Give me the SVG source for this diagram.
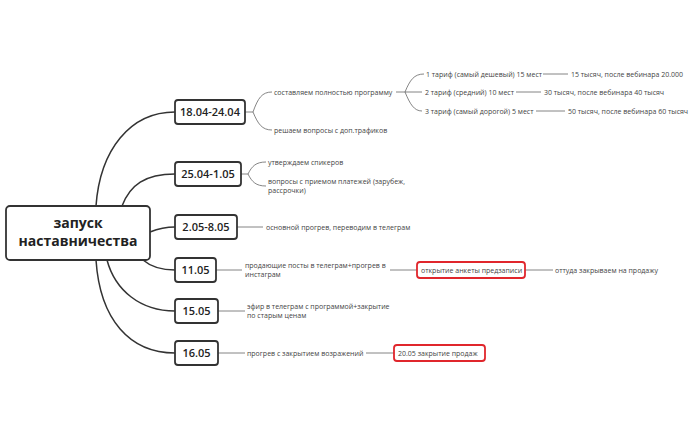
<svg xmlns="http://www.w3.org/2000/svg" width="698" height="432" viewBox="0 0 698 432">
<style>
.n{fill:#fff;stroke:#333;stroke-width:1.8}
.r{fill:#fff;stroke:#e0262c;stroke-width:1.8}
.c{fill:none;stroke:#333;stroke-width:1.5}
.s{fill:none;stroke:#666;stroke-width:0.8}
.t{font-family:"Open Sans","Liberation Sans",sans-serif;font-size:11px;fill:#222;font-weight:600}
.m{font-family:"Open Sans","Liberation Sans",sans-serif;font-size:7px;fill:#444}
.big{font-family:"Open Sans","Liberation Sans",sans-serif;font-size:14px;font-weight:bold;fill:#222}
</style>
<rect width="698" height="432" fill="#fff"/>
<g id="connectors">
<path class="c" d="M96,206 C100,150 130,112 175,112"/>
<path class="c" d="M122,206 C130,185 145,174 175,174"/>
<path class="c" d="M150,232 C160,228 165,227 175,227"/>
<path class="c" d="M143,260 C150,266 160,270 175,270"/>
<path class="c" d="M107,260 C115,290 140,311 175,311"/>
<path class="c" d="M96,260 C100,320 130,353 175,353"/>
<path class="s" d="M245,112 H253 C258,98 262,92 272,92 M253,112 C258,124 262,130 272,130"/>
<path class="s" d="M396,92 H405 M405,92 C410,80 414,74 424,74 M405,92 H422 M405,92 C410,104 414,111 422,111"/>
<path class="s" d="M543,74 H568 M516,92 H541 M536,111 H565"/>
<path class="s" d="M241,174 H248 C252,166 256,162 266,162 M248,174 C252,182 256,186 266,186"/>
<path class="s" d="M237,227 H263"/>
<path class="s" d="M216,270 H242 M390,270 H417 M525,270 H553"/>
<path class="s" d="M218,311 H245"/>
<path class="s" d="M218,353 H245 M366,353 H394"/>
</g>
<g id="root"><rect class="n" x="6" y="206" width="144" height="54" rx="4"/>
<text class="big" x="78" y="228" text-anchor="middle">запуск</text>
<text class="big" x="78" y="246" text-anchor="middle">наставничества</text></g>
<g id="n1"><rect class="n" x="175" y="100" width="70" height="24" rx="3"/><text class="t" x="210" y="116" text-anchor="middle">18.04-24.04</text></g>
<g id="n2"><rect class="n" x="175" y="162" width="66" height="24" rx="3"/><text class="t" x="208" y="178" text-anchor="middle">25.04-1.05</text></g>
<g id="n3"><rect class="n" x="175" y="215" width="62" height="24" rx="3"/><text class="t" x="206" y="231" text-anchor="middle">2.05-8.05</text></g>
<g id="n4"><rect class="n" x="175" y="258" width="41" height="24" rx="3"/><text class="t" x="195.5" y="274" text-anchor="middle">11.05</text></g>
<g id="n5"><rect class="n" x="175" y="299" width="43" height="24" rx="3"/><text class="t" x="196.5" y="315" text-anchor="middle">15.05</text></g>
<g id="n6"><rect class="n" x="175" y="341" width="43" height="24" rx="3"/><text class="t" x="196.5" y="357" text-anchor="middle">16.05</text></g>
<g id="texts">
<text class="m" x="274" y="94.5">составляем полностью программу</text>
<text class="m" x="274" y="132.5">решаем вопросы с доп.трафиков</text>
<text class="m" x="426" y="76.5">1 тариф (самый дешевый) 15 мест</text>
<text class="m" x="425" y="94.5">2 тариф (средний) 10 мест</text>
<text class="m" x="425" y="113.5">3 тариф (самый дорогой) 5 мест</text>
<text class="m" x="571" y="76.5">15 тысяч, после вебинара 20.000</text>
<text class="m" x="544" y="94.5">30 тысяч, после вебинара 40 тысяч</text>
<text class="m" x="568" y="113.5">50 тысяч, после вебинара 60 тысяч</text>
<text class="m" x="268" y="164.5">утверждаем спикеров</text>
<text class="m" x="268" y="183.5">вопросы с приемом платежей (зарубеж,</text>
<text class="m" x="268" y="192.5">рассрочки)</text>
<text class="m" x="266" y="229.5">основной прогрев, переводим в телеграм</text>
<text class="m" x="245" y="267.5">продающие посты в телеграм+прогрев в</text>
<text class="m" x="245" y="276.5">инстаграм</text>
<text class="m" x="555" y="272.5">оттуда закрываем на продажу</text>
<text class="m" x="247" y="308.5">эфир в телеграм с программой+закрытие</text>
<text class="m" x="247" y="317.5">по старым ценам</text>
<text class="m" x="247" y="355.5">прогрев с закрытием возражений</text>
</g>
<g id="r1"><rect class="r" x="417" y="262" width="108" height="16" rx="3"/><text class="m" x="421" y="272.5">открытие анкеты предзаписи</text></g>
<g id="r2"><rect class="r" x="394" y="345" width="91" height="16" rx="3"/><text class="m" x="398" y="355.5">20.05 закрытие продаж</text></g>
</svg>
